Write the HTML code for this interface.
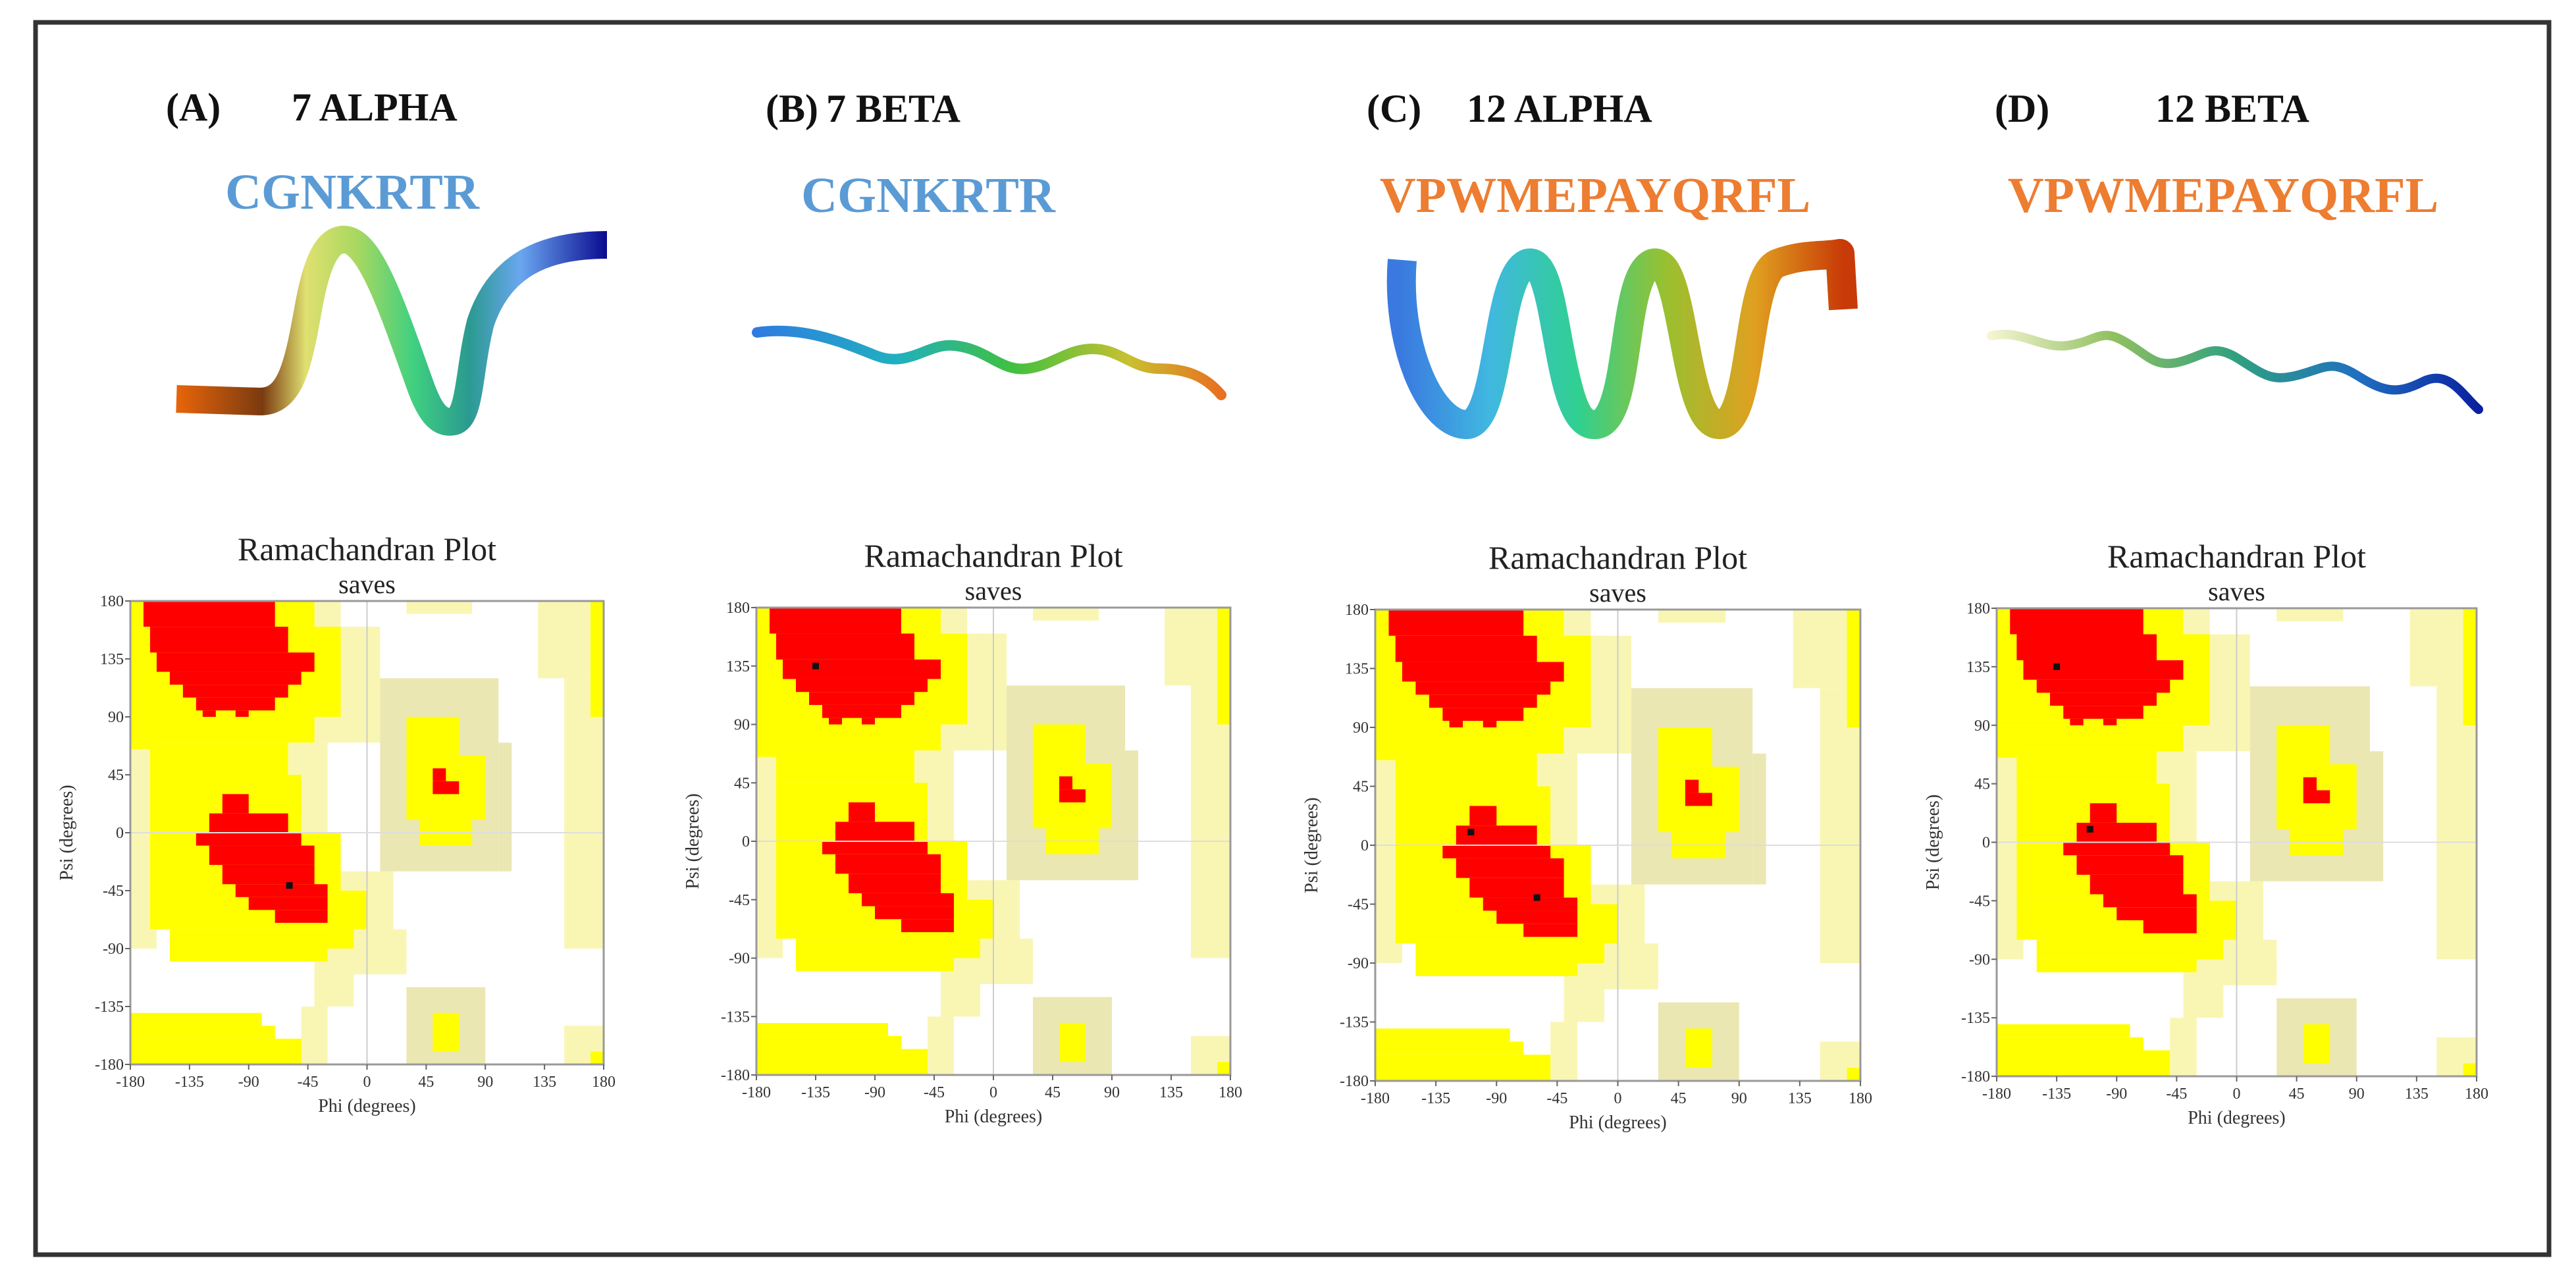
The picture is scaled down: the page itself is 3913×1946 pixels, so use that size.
<!DOCTYPE html>
<html><head><meta charset="utf-8"><style>
html,body{margin:0;padding:0;background:#fff;}
svg{display:block;}
text{font-family:"Liberation Serif",serif;}
</style></head><body>
<svg id="fig" width="3913" height="1946" viewBox="0 0 3913 1946" xmlns="http://www.w3.org/2000/svg">
<defs>
<linearGradient id="gA" x1="0" x2="1" y1="0" y2="0"><stop offset="0" stop-color="#e8650a"/><stop offset="0.2" stop-color="#7a3a10"/><stop offset="0.3" stop-color="#e0e070"/><stop offset="0.42" stop-color="#a8d860"/><stop offset="0.55" stop-color="#40d080"/><stop offset="0.68" stop-color="#2a9a90"/><stop offset="0.8" stop-color="#6aa6f0"/><stop offset="1" stop-color="#0a0a90"/></linearGradient>
<linearGradient id="gB" x1="0" x2="1" y1="0" y2="0"><stop offset="0" stop-color="#2f7ce0"/><stop offset="0.3" stop-color="#20b0c0"/><stop offset="0.55" stop-color="#40c040"/><stop offset="0.8" stop-color="#c8c030"/><stop offset="1" stop-color="#e87020"/></linearGradient>
<linearGradient id="gC" x1="0" x2="1" y1="0" y2="0"><stop offset="0" stop-color="#3a7ae0"/><stop offset="0.2" stop-color="#40b8e0"/><stop offset="0.4" stop-color="#30d090"/><stop offset="0.6" stop-color="#9ac030"/><stop offset="0.8" stop-color="#e0a020"/><stop offset="1" stop-color="#c83a08"/></linearGradient>
<linearGradient id="gD" x1="0" x2="1" y1="0" y2="0"><stop offset="0" stop-color="#f4f4d0"/><stop offset="0.25" stop-color="#90c060"/><stop offset="0.5" stop-color="#30a080"/><stop offset="0.75" stop-color="#2070c0"/><stop offset="1" stop-color="#0a20a0"/></linearGradient>
</defs>
<rect x="54" y="34" width="3818" height="1872" fill="none" stroke="#333" stroke-width="7"/>

<g>
<text x="252" y="183" font-size="60" font-weight="bold" fill="#111">(A)</text>
<text x="443" y="183" font-size="60" font-weight="bold" fill="#111">7 ALPHA</text>
<text x="535" y="317" font-size="76" font-weight="bold" fill="#5b9bd5" text-anchor="middle">CGNKRTR</text>
</g>
<g>
<text x="1163" y="185" font-size="60" font-weight="bold" fill="#111">(B)</text>
<text x="1255" y="185" font-size="60" font-weight="bold" fill="#111">7 BETA</text>
<text x="1410" y="322" font-size="76" font-weight="bold" fill="#5b9bd5" text-anchor="middle">CGNKRTR</text>
</g>
<g>
<text x="2076" y="185" font-size="60" font-weight="bold" fill="#111">(C)</text>
<text x="2228" y="185" font-size="60" font-weight="bold" fill="#111">12 ALPHA</text>
<text x="2423" y="322" font-size="76" font-weight="bold" fill="#ed7d31" text-anchor="middle">VPWMEPAYQRFL</text>
</g>
<g>
<text x="3030" y="185" font-size="60" font-weight="bold" fill="#111">(D)</text>
<text x="3274" y="185" font-size="60" font-weight="bold" fill="#111">12 BETA</text>
<text x="3377" y="322" font-size="76" font-weight="bold" fill="#ed7d31" text-anchor="middle">VPWMEPAYQRFL</text>
</g>

<path d="M268 606 L395 610 C440 610 452 560 468 470 C482 390 500 362 525 364 C565 368 600 480 640 590 C655 630 670 645 690 640 C715 632 712 560 730 490 C760 400 830 372 922 372" fill="none" stroke="url(#gA)" stroke-width="42" stroke-linejoin="round"/>
<path d="M1150 505 C1220 495 1280 520 1330 540 C1380 560 1410 520 1450 525 C1500 530 1520 565 1560 560 C1600 555 1620 530 1660 530 C1700 530 1720 560 1760 560 C1800 560 1830 570 1855 600" fill="none" stroke="url(#gB)" stroke-width="16" stroke-linecap="round"/>
<path d="M2130 395 C2120 520 2170 640 2225 645 C2280 650 2270 420 2320 400 C2370 385 2360 640 2420 645 C2480 650 2460 420 2510 400 C2560 385 2555 640 2610 645 C2665 650 2650 420 2700 400 C2740 385 2770 390 2795 385 L2800 470" fill="none" stroke="url(#gC)" stroke-width="44" stroke-linejoin="round"/>
<path d="M3025 510 C3070 500 3100 530 3140 525 C3180 520 3190 500 3220 515 C3260 535 3270 560 3310 550 C3350 540 3360 520 3400 545 C3440 570 3450 580 3490 570 C3530 560 3540 545 3580 570 C3620 595 3640 600 3680 580 C3720 560 3740 600 3765 622" fill="none" stroke="url(#gD)" stroke-width="14" stroke-linecap="round"/>

<g id="plots"></g>
</svg>
<script>
// region map (phi0, phi1, psi0, psi1, class)
const regionPhi0 = [-50,-40,-40,-40,-180,-45,-20,-60,-30,-10,150,130,150,30,150, 10,100,30, -180,-180,-180,-180,-165,-165,-165,-150,-150,-180,-180,-180,30,30,40,170,170,50, -180, -110,-120,-130,-120,-110,-100,-90,-70, -170,-165,-160,-150,-140,-130,-125,-100, 50,50];
const regionPhi1 = [-30,-10,30,-10,-160,-20,10,-30,20,30,180,180,180,80,180, 100,110,90, -40,-20,-40,-60,-50,-20,0,-10,-30,-80,-70,-50,70,90,80,180,180,70, -165, -90,-60,-50,-40,-40,-30,-30,-30, -70,-60,-40,-50,-60,-70,-115,-90, 70,60];
const regionPsi0 = [-180,-135,-110,-135,-90,70,70,-30,-90,-100,-90,120,90,170,-180, -30,-30,-180, 160,90,70,45,0,-45,-75,-90,-100,-150,-160,-180,60,10,-10,90,-180,-170, -75, 15,0,-10,-25,-40,-50,-60,-70, 160,140,125,115,105,95,90,90, 30,40];
const regionPsi1 = [-135,-90,-90,-110,70,180,160,70,-30,-75,90,180,120,180,-150, 120,70,-120, 180,160,90,70,45,0,-45,-75,-90,-140,-150,-160,90,60,10,180,-170,-140, 65, 30,15,0,-10,-25,-40,-50,-60, 180,160,140,125,115,105,95,95, 40,50];
const regionCls = ["P","P","P","P","P","P","P","P","P","P","P","P","P","P","P","G","G","G","Y","Y","Y","Y","Y","Y","Y","Y","Y","Y","Y","Y","Y","Y","Y","Y","Y","Y","P","R","R","R","R","R","R","R","R","R","R","R","R","R","R","R","R","R","R"];
const tickVals = [-180,-135,-90,-45,0,45,90,135,180];
const tickLabels = ["-180","-135","-90","-45","0","45","90","135","180"];
const panelNames = ["a","b","c","d"];
const pointsPhiA = [-59]; const pointsPsiA = [-41];
const pointsPhiB = [-135]; const pointsPsiB = [135];
const pointsPhiC = [-109,-60]; const pointsPsiC = [10,-40];
const pointsPhiD = [-135,-110]; const pointsPsiD = [135,10];

const boxes = [{x:198,y:913,w:719,h:704},{x:1149,y:923,w:720,h:710},{x:2089,y:926,w:737,h:716},{x:3033,y:924,w:729,h:711}];
const ptsPhi=[pointsPhiA,pointsPhiB,pointsPhiC,pointsPhiD];
const ptsPsi=[pointsPsiA,pointsPsiB,pointsPsiC,pointsPsiD];
const colors={P:"#f9f6b4",G:"#ebe7b3",Y:"#ffff00",R:"#ff0000"};
const NS="http://www.w3.org/2000/svg";
const root=document.getElementById("plots");
function mk(tag,attrs,parent){const e=document.createElementNS(NS,tag);for(const k in attrs)e.setAttribute(k,attrs[k]);parent.appendChild(e);return e;}
boxes.forEach((b,i)=>{
  const xs=v=>b.x+(v+180)/360*b.w;
  const ys=v=>b.y+(180-v)/360*b.h;
  const g=mk("g",{},root);
  
  
  const t1=mk("text",{x:b.x+b.w/2,y:b.y-62,"font-size":50,"text-anchor":"middle",fill:"#222"},g);
  t1.textContent="Ramachandran Plot";
  
  
  const t2=mk("text",{x:b.x+b.w/2,y:b.y-12,"font-size":40,"text-anchor":"middle",fill:"#222"},g);
  t2.textContent="saves";
  
  
  for(let k=0;k<regionCls.length;k++){
    const x0=xs(regionPhi0[k]),x1=xs(regionPhi1[k]),y0=ys(regionPsi1[k]),y1=ys(regionPsi0[k]);
    const r=mk("rect",{x:x0,y:y0,width:x1-x0,height:y1-y0,fill:colors[regionCls[k]]},g);
    
    
  }
  mk("line",{x1:xs(0),x2:xs(0),y1:b.y,y2:b.y+b.h,stroke:"#ccc","stroke-width":2},g);
  mk("line",{x1:b.x,x2:b.x+b.w,y1:ys(0),y2:ys(0),stroke:"#ddd","stroke-width":2},g);
  const fr=mk("rect",{x:b.x,y:b.y,width:b.w,height:b.h,fill:"none",stroke:"#999","stroke-width":3},g);
  
  
  tickVals.forEach((v,j)=>{
    mk("line",{x1:xs(v),x2:xs(v),y1:b.y+b.h,y2:b.y+b.h+8,stroke:"#666","stroke-width":2},g);
    const tx=mk("text",{x:xs(v),y:b.y+b.h+34,"font-size":24,"text-anchor":"middle",fill:"#333"},g);
    tx.textContent=tickLabels[j];
    
    
    mk("line",{x1:b.x-8,x2:b.x,y1:ys(v),y2:ys(v),stroke:"#666","stroke-width":2},g);
    const ty=mk("text",{x:b.x-10,y:ys(v)+8,"font-size":24,"text-anchor":"end",fill:"#333"},g);
    ty.textContent=tickLabels[j];
    
    
  });
  const xl=mk("text",{x:b.x+b.w/2,y:b.y+b.h+72,"font-size":28,"text-anchor":"middle",fill:"#333"},g);
  xl.textContent="Phi (degrees)";
  
  
  const yl=mk("text",{x:0,y:0,"font-size":28,"text-anchor":"middle",fill:"#333",transform:`translate(${b.x-88},${b.y+b.h/2}) rotate(-90)`},g);
  yl.textContent="Psi (degrees)";
  
  
  ptsPhi[i].forEach((p,j)=>{
    const c=mk("rect",{x:xs(p)-5,y:ys(ptsPsi[i][j])-5,width:10,height:10,fill:"#111"},g);
    
    
  });
});
</script>
</body></html>
